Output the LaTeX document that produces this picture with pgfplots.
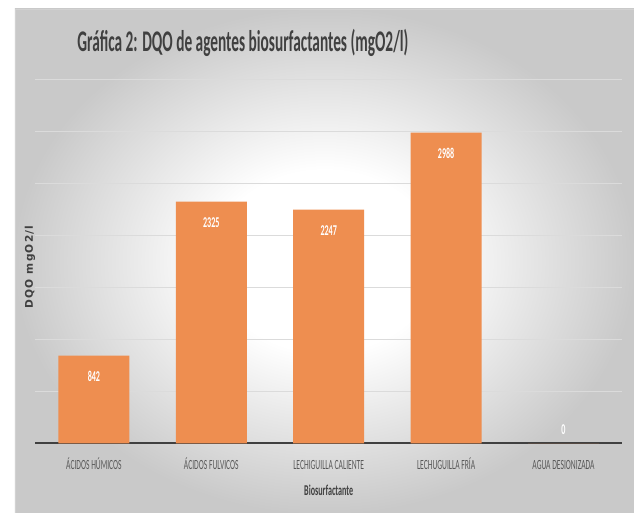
\documentclass[border=0pt]{standalone}
\usepackage{pgfplots}
\pgfplotsset{compat=1.18}
\usepackage{fontspec}
\setmainfont{Carlito}
\newfontfamily\cond[FakeStretch=0.54]{Carlito}
\newfontfamily\dv[LetterSpace=12]{DejaVu Sans}
\definecolor{barorange}{RGB}{238,142,80}
\definecolor{txtgray}{RGB}{89,89,89}
\definecolor{titlegray}{RGB}{64,64,64}
\pgfdeclareradialshading{bgshade}{\pgfpoint{0bp}{0bp}}{color(0bp)=(white); color(9bp)=(white); color(25bp)=(gray!42); color(50bp)=(gray!42)}
\begin{document}
\begin{tikzpicture}[x=0.5pt,y=0.5pt]
\path[use as bounding box] (0,0) rectangle (634,513);
\path[shading=bgshade, draw=gray!35] (15,0) rectangle (634,504);
\node[anchor=west, inner sep=0pt, text=titlegray] at (77,470)
  {\resizebox{165.5pt}{\height}{\fontsize{15}{17}\selectfont\bfseries Gráfica 2: DQO de agentes biosurfactantes (mgO2/l)}};
\node[rotate=90, inner sep=0pt, text=titlegray] at (30,246)
  {\dv\bfseries\fontsize{5.3}{6}\selectfont DQO mgO2/l};
\begin{axis}[
  at={(30,67)}, anchor=south west,
  scale only axis, width=293.5pt, height=182pt,
  ybar, bar width=35.5pt,
  xmin=-0.5, xmax=4.5, ymin=0, ymax=3500,
  xtick=data,
  xticklabels={ÁCIDOS HÚMICOS, ÁCIDOS FULVICOS, LECHIGUILLA CALIENTE, LECHUGUILLA FRÍA, AGUA DESIONIZADA},
  ytick={0,500,...,3500}, yticklabels={},
  ymajorgrids, grid style={color=gray!28, line width=0.6pt},
  major tick length=0pt,
  axis x line*=bottom, axis y line*=left,
  y axis line style={draw=none},
  x axis line style={color=titlegray, line width=1.1pt, -},
  xticklabel style={anchor=base, yshift=-13pt, text=txtgray, font=\cond\fontsize{7}{8}\selectfont},
  xlabel={Biosurfactante},
  xlabel style={at={(axis description cs:0.5,0)}, anchor=base, yshift=-26pt, text=titlegray, font=\cond\bfseries\fontsize{7.5}{8}\selectfont},
  nodes near coords,
  /pgf/number format/assume math mode=true,
  /pgf/number format/1000 sep={},
  visualization depends on={ifthenelse(y>0,-10.5,7) \as \myshift},
  every node near coord/.append style={anchor=center, yshift=\myshift pt, text=white, font=\cond\bfseries\fontsize{7.5}{8}\selectfont},
]
\addplot[fill=barorange, draw=none] coordinates {(0,842) (1,2325) (2,2247) (3,2988) (4,0)};
\end{axis}
\end{tikzpicture}
\end{document}
